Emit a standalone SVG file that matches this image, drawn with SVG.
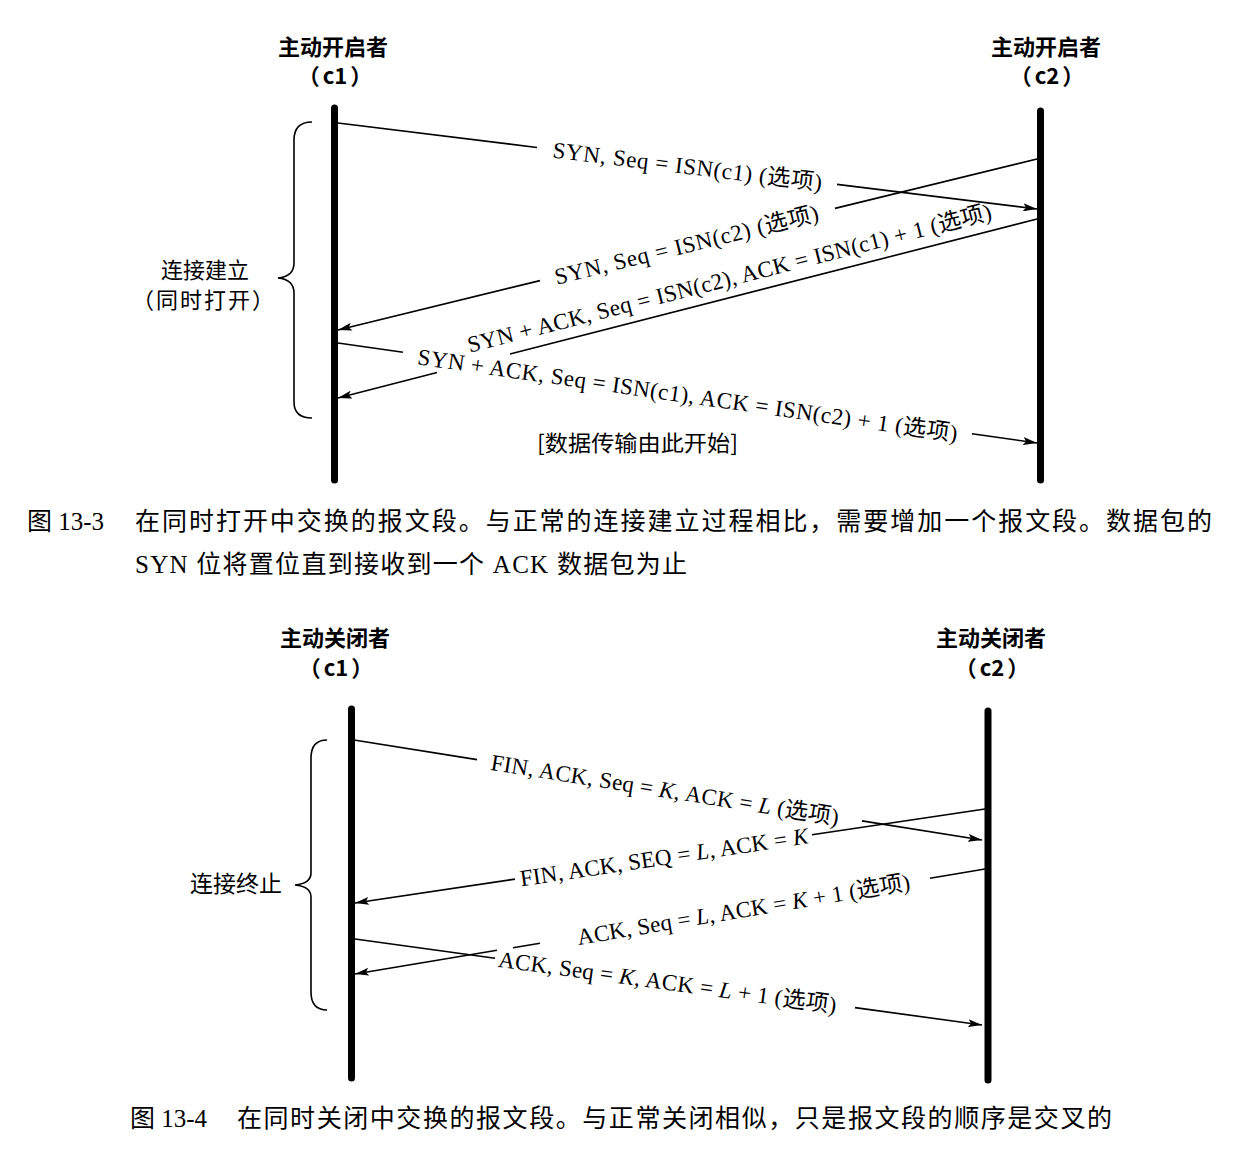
<svg xmlns="http://www.w3.org/2000/svg" width="1242" height="1150" viewBox="0 0 1242 1150">
<style>
.tl{stroke:#000;stroke-width:7;stroke-linecap:round;fill:none}
.ln{stroke:#000;stroke-width:1.6;fill:none}
.br{stroke:#000;stroke-width:1.6;fill:none}
.hd{font-family:"Noto Sans CJK SC","Liberation Sans",sans-serif;font-weight:bold;font-size:22px;text-anchor:middle;fill:#000}
.bl{font-family:"Noto Sans CJK SC","Liberation Sans",sans-serif;font-size:22px;text-anchor:middle;fill:#000}
.lb{font-family:"Liberation Serif","Noto Sans CJK SC",serif;font-size:23px;text-anchor:middle;fill:#000}
.cap{font-family:"Liberation Serif","Noto Sans CJK SC",serif;font-size:25px;fill:#000}
.it{font-style:italic}
</style>
<defs>
<marker id="arr" viewBox="0 0 14 8" refX="14" refY="4" markerWidth="14" markerHeight="8" markerUnits="userSpaceOnUse" orient="auto">
<path d="M0,0 L14,4 L0,8 L3,4 z" fill="#000"/>
</marker>
</defs>
<rect width="1242" height="1150" fill="#fff"/>

<!-- Top diagram nodes -->
<g id="top-c1">
<text class="hd" x="333" y="55">主动开启者</text>
<text class="hd" x="335" y="84">（<tspan dx="3">c1</tspan><tspan dx="3">）</tspan></text>
<line class="tl" x1="334.5" y1="108" x2="334.5" y2="480"/>
</g>
<g id="top-c2">
<text class="hd" x="1046" y="55">主动开启者</text>
<text class="hd" x="1047" y="84">（<tspan dx="3">c2</tspan><tspan dx="3">）</tspan></text>
<line class="tl" x1="1040.5" y1="111" x2="1040.5" y2="480"/>
</g>
<g id="top-brace">
<path class="br" d="M312,122 C300,122 294,128 294,140 L294,263 C294,272 288,277 278,278 C288,279 294,284 294,293 L294,402 C294,412 300,418 312,418"/>
<text class="bl" x="205" y="278">连接建立</text>
<text class="bl" x="204" y="308" style="letter-spacing:2px">（同时打开）</text>
</g>
<g id="top-note">
<text class="bl" x="637.5" y="451" textLength="201" lengthAdjust="spacingAndGlyphs">[数据传输由此开始]</text>
</g>

<!-- Top connectors -->
<g id="top-connectors">
<g id="t1">
<line class="ln" x1="338" y1="123" x2="537" y2="147.5"/>
<line class="ln" x1="837" y1="184.4" x2="1037" y2="209" marker-end="url(#arr)"/>
<text class="lb" transform="translate(687.5,166) rotate(7)" y="8" textLength="271" lengthAdjust="spacing">SYN, Seq = ISN(c1) (选项)</text>
</g>
<g id="t2">
<line class="ln" x1="1037" y1="159" x2="835" y2="208.4"/>
<line class="ln" x1="540" y1="280.6" x2="338" y2="330" marker-end="url(#arr)"/>
<text class="lb" transform="translate(686.5,244.7) rotate(-13.75)" y="8" textLength="271" lengthAdjust="spacing">SYN, Seq = ISN(c2) (选项)</text>
</g>
<g id="t3">
<line class="ln" x1="1037" y1="219" x2="510" y2="354"/>
<line class="ln" x1="437" y1="372.6" x2="338" y2="398" marker-end="url(#arr)"/>
<text class="lb" transform="translate(734,296.5) rotate(-14.36)" y="-11" textLength="540" lengthAdjust="spacing">SYN + ACK, Seq = ISN(c2), ACK = ISN(c1) + 1 (选项)</text>
</g>
<g id="t4">
<line class="ln" x1="338" y1="343" x2="403" y2="352.3"/>
<line class="ln" x1="972" y1="433.7" x2="1037" y2="443" marker-end="url(#arr)"/>
<text class="lb" transform="translate(688,393) rotate(8.14)" y="10" textLength="545" lengthAdjust="spacing">SYN + ACK, Seq = ISN(c1), ACK = ISN(c2) + 1 (选项)</text>
</g>
</g>

<!-- Caption 13-3 -->
<g id="caption-13-3">
<text class="cap" x="27" y="530">图 13-3</text>
<text class="cap" x="135" y="530" textLength="1077" lengthAdjust="spacing">在同时打开中交换的报文段。与正常的连接建立过程相比，需要增加一个报文段。数据包的</text>
<text class="cap" x="135" y="573" textLength="552" lengthAdjust="spacing">SYN 位将置位直到接收到一个 ACK 数据包为止</text>
</g>

<!-- Bottom diagram nodes -->
<g id="bot-c1">
<text class="hd" x="335" y="646">主动关闭者</text>
<text class="hd" x="336" y="676">（<tspan dx="3">c1</tspan><tspan dx="3">）</tspan></text>
<line class="tl" x1="351.5" y1="709" x2="351.5" y2="1078"/>
</g>
<g id="bot-c2">
<text class="hd" x="991" y="646">主动关闭者</text>
<text class="hd" x="992" y="676">（<tspan dx="3">c2</tspan><tspan dx="3">）</tspan></text>
<line class="tl" x1="988" y1="711" x2="988" y2="1080"/>
</g>
<g id="bot-brace">
<path class="br" d="M327,740 C316,740 311,746 311,758 L311,873 C311,881 305,884 295,885 C305,886 311,889 311,897 L311,992 C311,1004 316,1010 327,1010"/>
<text class="bl" x="236" y="892" style="font-size:23px">连接终止</text>
</g>

<!-- Bottom connectors -->
<g id="bot-connectors">
<g id="b1">
<line class="ln" x1="354" y1="740" x2="477" y2="759.6"/>
<line class="ln" x1="862" y1="820.9" x2="982" y2="840" marker-end="url(#arr)"/>
<text class="lb" transform="translate(665,789.5) rotate(9.05)" y="8" textLength="352" lengthAdjust="spacing">FIN, ACK, Seq = <tspan class="it">K</tspan>, ACK = <tspan class="it">L</tspan> (选项)</text>
</g>
<g id="b2">
<line class="ln" x1="985" y1="809" x2="812" y2="834.8"/>
<line class="ln" x1="515" y1="879.1" x2="355" y2="903" marker-end="url(#arr)"/>
<text class="lb" transform="translate(664,856.9) rotate(-8.49)" y="8" textLength="291" lengthAdjust="spacing">FIN, ACK, SEQ = <tspan class="it">L</tspan>, ACK = <tspan class="it">K</tspan></text>
</g>
<g id="b3">
<line class="ln" x1="985" y1="869" x2="930" y2="878.2"/>
<line class="ln" x1="540" y1="943.2" x2="513" y2="947.7"/>
<line class="ln" x1="497" y1="950.3" x2="355" y2="974" marker-end="url(#arr)"/>
<text class="lb" transform="translate(743.5,909.3) rotate(-9.46)" y="8" textLength="337" lengthAdjust="spacing">ACK, Seq = <tspan class="it">L</tspan>, ACK = <tspan class="it">K</tspan> + 1 (选项)</text>
</g>
<g id="b4">
<line class="ln" x1="355" y1="939" x2="495" y2="958.2"/>
<line class="ln" x1="855" y1="1007.6" x2="982" y2="1025" marker-end="url(#arr)"/>
<text class="lb" transform="translate(667.5,981.9) rotate(7.81)" y="8" textLength="341" lengthAdjust="spacing">ACK, Seq = <tspan class="it">K</tspan>, ACK = <tspan class="it">L</tspan> + 1 (选项)</text>
</g>
</g>

<!-- Caption 13-4 -->
<g id="caption-13-4">
<text class="cap" x="130" y="1127">图 13-4</text>
<text class="cap" x="237" y="1127" textLength="875" lengthAdjust="spacing">在同时关闭中交换的报文段。与正常关闭相似，只是报文段的顺序是交叉的</text>
</g>
</svg>
